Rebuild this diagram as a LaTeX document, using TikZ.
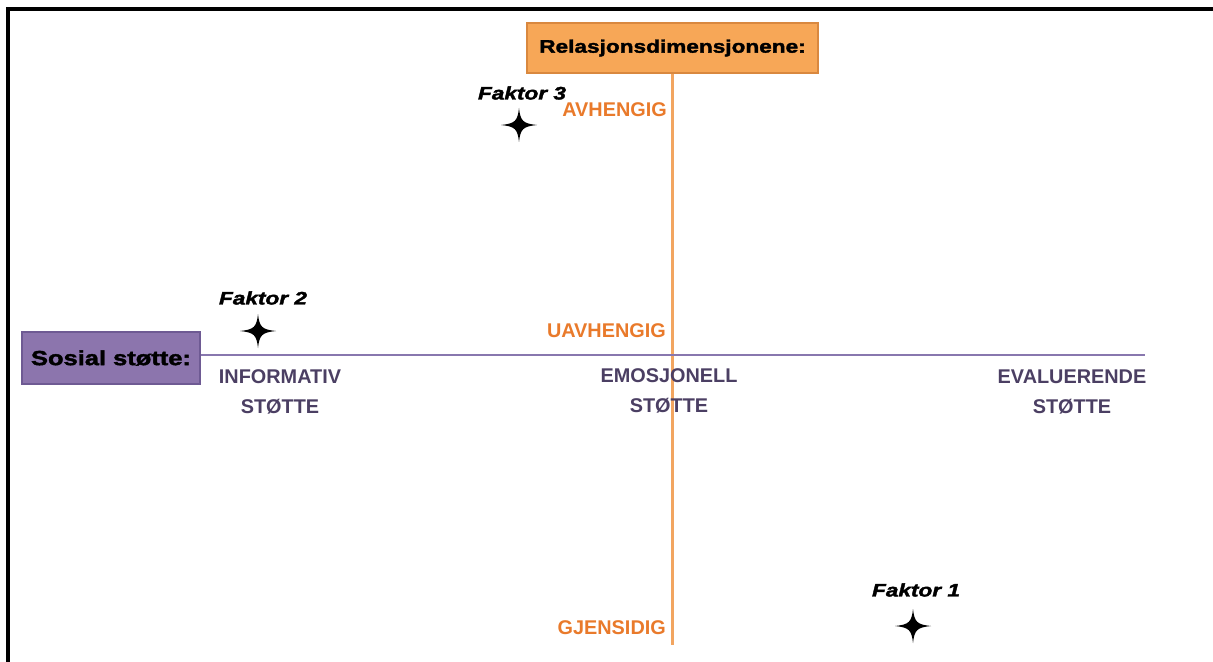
\documentclass[tikz,border=0pt]{standalone}
\usepackage{fontspec}
\setmainfont{Liberation Sans}
\newfontfamily\blackfont[FakeStretch=1.25,FakeBold=2]{Liberation Sans}
\usepackage{xcolor}

\definecolor{boxorange}{HTML}{F7A757}
\definecolor{edgeorange}{HTML}{D9883F}
\definecolor{lineorange}{HTML}{F2A560}
\definecolor{textorange}{HTML}{E97A2B}
\definecolor{boxpurple}{HTML}{8C75AD}
\definecolor{edgepurple}{HTML}{6E5A93}
\definecolor{linepurple}{HTML}{8877AE}
\definecolor{textpurple}{HTML}{4B3F63}

\tikzset{
  dimbox/.style={line width=1pt, inner sep=0pt},
  dimlabel/.style={text=textorange, font=\fontsize{11.3}{13}\selectfont\bfseries},
  supportlabel/.style={text=textpurple, align=center, font=\fontsize{11.3}{17}\selectfont\bfseries},
  faktorlabel/.style={font=\blackfont\fontsize{10.3}{12}\selectfont\bfseries\itshape},
  sparkle/.pic={
    \fill (18,0) .. controls (4,-1.4) and (1.4,-4) .. (0,-17)
      .. controls (-1.4,-4) and (-4,-1.4) .. (-18,0)
      .. controls (-4,1.4) and (-1.4,4) .. (0,17)
      .. controls (1.4,4) and (4,1.4) .. cycle;
  }
}

\begin{document}
\begin{tikzpicture}[x=0.02cm, y=-0.02cm]
 \useasboundingbox (0,0) rectangle (1213,662);

 % frame
 \draw[line width=2pt] (1220,9) -- (8,9) -- (8,670);

 % the two boxes
 \node [dimbox, fill=boxorange, draw=edgeorange, minimum width=5.82cm, minimum height=1cm,
        font=\blackfont\fontsize{10.3}{12}\selectfont\bfseries] (rel) at (672.5,48) {Relasjonsdimensjonene:};
 \node [dimbox, fill=boxpurple, draw=edgepurple, minimum width=3.56cm, minimum height=1.04cm,
        font=\blackfont\fontsize{11.6}{13}\selectfont\bfseries] (sos) at (111,358) {Sosial støtte:};

 \coordinate (vend) at (rel.south |- 0,645);
 \coordinate (hend) at (1145,355);
 \coordinate (hstart) at (sos.east |- hend);

 % axes
 \draw[lineorange, line width=1.3pt] (rel.south) -- (vend);
 \draw[linepurple, line width=1.3pt] (hstart) -- (hend);

 % relation dimensions
 \node [dimlabel, anchor=east] (avh) at (673,110) {AVHENGIG};
 \node [dimlabel, anchor=east] (uavh) at (672,331) {UAVHENGIG};
 \node [dimlabel, anchor=east] (gjen) at (672,628) {GJENSIDIG};

 % social support
 \node [supportlabel] (info) at (280,392) {INFORMATIV\\STØTTE};
 \node [supportlabel] (emo) at (669,391) {EMOSJONELL\\STØTTE};
 \node [supportlabel] (eval) at (1072,392) {EVALUERENDE\\STØTTE};

 % factors
 \pic (f3star) at (519,125) {sparkle};
 \pic (f2star) at (258,331) {sparkle};
 \pic (f1star) at (913,626) {sparkle};

 \node [faktorlabel] (f3) at (522,93) {Faktor 3};
 \node [faktorlabel] (f2) at (263,298) {Faktor 2};
 \node [faktorlabel] (f1) at (916,590) {Faktor 1};

\end{tikzpicture}
\end{document}
